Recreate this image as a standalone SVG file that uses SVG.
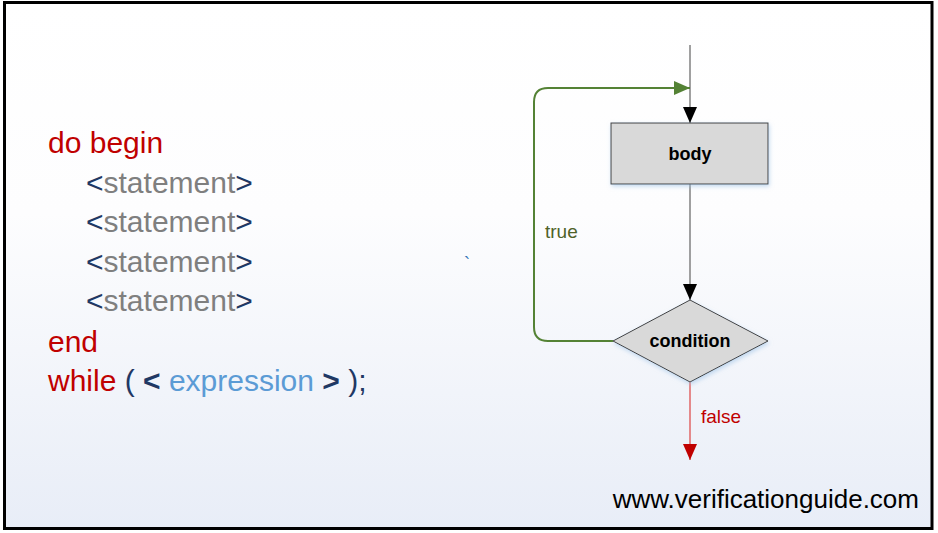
<svg xmlns="http://www.w3.org/2000/svg" width="938" height="533" viewBox="0 0 938 533">
<style>
.code{font-family:"Liberation Sans",Arial,sans-serif;font-size:30px}
.red{fill:#c00000}
.navy{fill:#1f3864}
.gray{fill:#7f7f7f}
.lblue{fill:#5b9bd5}
.node{fill:#d9d9d9;stroke:#404040;stroke-width:1}
.nlabel{font-family:"Liberation Sans",Arial,sans-serif;font-size:18px;font-weight:bold;fill:#000;text-anchor:middle}
.elabel{font-family:"Liberation Sans",Arial,sans-serif;font-size:19px}
</style>
<defs>
<linearGradient id="bg" x1="0" y1="0" x2="0" y2="1">
<stop offset="0" stop-color="#ffffff"/>
<stop offset="0.4" stop-color="#fdfdfe"/>
<stop offset="1" stop-color="#e8edf7"/>
</linearGradient>
<filter id="sh" x="-20%" y="-20%" width="140%" height="150%">
<feDropShadow dx="1" dy="2" stdDeviation="2" flood-color="#9dc3e6" flood-opacity="0.6"/>
</filter>
<marker id="ablack" viewBox="0 0 16 14" refX="16" refY="7" markerWidth="16" markerHeight="14" markerUnits="userSpaceOnUse" orient="auto">
<path d="M0,0 L16,7 L0,14 Z" fill="#000"/>
</marker>
<marker id="agreen" viewBox="0 0 16 14" refX="16" refY="7" markerWidth="16" markerHeight="14" markerUnits="userSpaceOnUse" orient="auto">
<path d="M0,0 L16,7 L0,14 Z" fill="#548235"/>
</marker>
<marker id="ared" viewBox="0 0 16 14" refX="16" refY="7" markerWidth="16" markerHeight="14" markerUnits="userSpaceOnUse" orient="auto">
<path d="M0,0 L16,7 L0,14 Z" fill="#c00000"/>
</marker>
</defs>
<rect x="4.5" y="2.5" width="927.5" height="526" fill="url(#bg)" stroke="#000" stroke-width="3"/>

<g id="code">
<text class="code red" x="48" y="153">do begin</text>
<text class="code" x="86" y="193"><tspan class="navy">&lt;</tspan><tspan class="gray">statement</tspan><tspan class="navy">&gt;</tspan></text>
<text class="code" x="86" y="232"><tspan class="navy">&lt;</tspan><tspan class="gray">statement</tspan><tspan class="navy">&gt;</tspan></text>
<text class="code" x="86" y="272"><tspan class="navy">&lt;</tspan><tspan class="gray">statement</tspan><tspan class="navy">&gt;</tspan></text>
<text class="code" x="86" y="311"><tspan class="navy">&lt;</tspan><tspan class="gray">statement</tspan><tspan class="navy">&gt;</tspan></text>
<text class="code red" x="48" y="352">end</text>
<text class="code" x="48" y="391"><tspan class="red">while</tspan><tspan class="navy"> ( </tspan><tspan class="navy" font-weight="bold">&lt;</tspan><tspan class="lblue"> expression </tspan><tspan class="navy" font-weight="bold">&gt;</tspan><tspan class="navy"> );</tspan></text>
</g>

<text x="464" y="270" font-family="Liberation Sans,Arial,sans-serif" font-size="18px" fill="#2e75b6">`</text>

<g id="connectors" fill="none">
<line x1="690" y1="45" x2="690" y2="123" stroke="#808080" stroke-width="1.5" marker-end="url(#ablack)"/>
<line x1="690" y1="184" x2="690" y2="300" stroke="#808080" stroke-width="1.5" marker-end="url(#ablack)"/>
<path d="M613,341 L548,341 Q534,341 534,327 L534,102 Q534,88 548,88 L690,88" stroke="#548235" stroke-width="2" marker-end="url(#agreen)"/>
<line x1="690" y1="382" x2="690" y2="460" stroke="#e06666" stroke-width="1.5" marker-end="url(#ared)"/>
<text class="elabel" x="545" y="238" fill="#4f6228">true</text>
<text class="elabel" x="701" y="423" fill="#c00000">false</text>
</g>

<g id="body">
<rect class="node" x="611" y="123" width="157" height="61" filter="url(#sh)"/>
<text class="nlabel" x="690" y="160">body</text>
</g>

<g id="condition">
<polygon class="node" points="690,300 768,341 690,382 613,341" filter="url(#sh)"/>
<text class="nlabel" x="690" y="347">condition</text>
</g>

<text x="919" y="508" text-anchor="end" font-family="Liberation Sans,Arial,sans-serif" font-size="26px" fill="#000">www.verificationguide.com</text>
</svg>
